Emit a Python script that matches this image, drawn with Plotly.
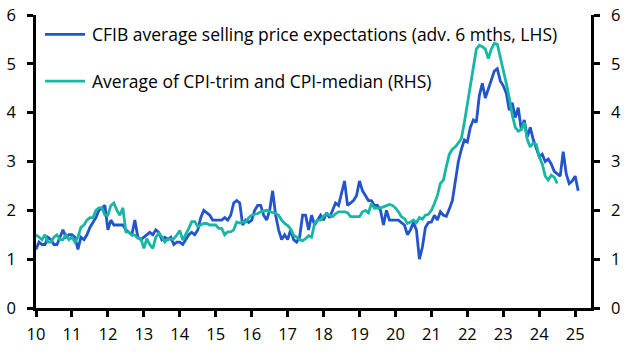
import plotly.graph_objects as go

# Monthly data, Jan 2010 onwards
cfib = [
    # 2010
    1.2, 1.35, 1.3, 1.3, 1.45, 1.4, 1.3, 1.3, 1.45, 1.6, 1.45, 1.5,
    # 2011
    1.5, 1.45, 1.2, 1.45, 1.4, 1.5, 1.65, 1.75, 1.85, 2.0, 2.05, 2.1,
    # 2012
    1.6, 1.8, 1.7, 1.7, 1.7, 1.7, 1.6, 1.55, 1.5, 1.8, 1.45, 1.4,
    # 2013
    1.45, 1.5, 1.55, 1.5, 1.6, 1.55, 1.4, 1.45, 1.4, 1.45, 1.3, 1.35,
    # 2014
    1.35, 1.3, 1.4, 1.5, 1.55, 1.5, 1.6, 1.85, 2.0, 1.95, 1.9, 1.8,
    # 2015
    1.8, 1.8, 1.8, 1.85, 1.8, 1.9, 2.15, 2.2, 2.15, 1.7, 1.8, 1.75,
    # 2016
    1.8, 2.0, 2.1, 2.1, 1.9, 1.8, 2.0, 2.4, 1.9, 1.6, 1.4, 1.5,
    # 2017
    1.4, 1.6, 1.4, 1.35, 1.45, 1.9, 1.9, 1.6, 1.9, 1.7, 1.8, 1.9,
    # 2018
    1.8, 1.95, 1.85, 2.0, 2.15, 2.1, 2.35, 2.6, 2.1, 2.15, 2.2, 2.3,
    # 2019
    2.6, 2.4, 2.3, 2.2, 2.2, 2.1, 2.1, 2.0, 1.7, 2.0, 1.8, 1.8,
    # 2020
    1.8, 1.8, 1.75, 1.7, 1.5, 1.6, 1.75, 1.6, 1.0, 1.25, 1.65, 1.75,
    # 2021
    1.76, 1.9, 1.8, 1.97, 1.9, 1.88, 2.03, 2.2, 2.6, 3.0, 3.25, 3.44,
    # 2022
    3.4, 3.7, 3.85, 3.8, 4.35, 4.6, 4.3, 4.5, 4.65, 4.85, 4.9, 4.65,
    # 2023
    4.55, 4.4, 4.05, 4.2, 3.9, 4.1, 3.65, 3.85, 3.5, 3.7, 3.45, 3.25,
    # 2024
    3.1, 3.15, 3.0, 3.05, 2.95, 2.8, 2.75, 2.7, 3.2, 2.75, 2.55, 2.6,
    # 2025
    2.7, 2.4,
]

cpi_core = [
    # 2010
    1.5, 1.45, 1.4, 1.5, 1.35, 1.35, 1.45, 1.5, 1.4, 1.4, 1.5, 1.4,
    # 2011
    1.45, 1.35, 1.45, 1.65, 1.7, 1.8, 1.85, 1.85, 2.0, 2.05, 2.05, 1.9,
    # 2012
    1.9, 2.1, 2.15, 2.0, 1.9, 2.05, 1.56, 1.55, 1.5, 1.49, 1.43, 1.42,
    # 2013
    1.22, 1.42, 1.3, 1.22, 1.45, 1.53, 1.46, 1.35, 1.42, 1.4, 1.42, 1.49,
    # 2014
    1.59, 1.39, 1.5, 1.63, 1.77, 1.77, 1.67, 1.7, 1.73, 1.73, 1.7, 1.7,
    # 2015
    1.7, 1.63, 1.63, 1.5, 1.56, 1.56, 1.6, 1.76, 1.74, 1.76, 1.76, 1.85,
    # 2016
    1.9, 1.92, 1.93, 1.97, 1.98, 2.0, 1.97, 1.96, 1.94, 1.9, 1.8, 1.73,
    # 2017
    1.69, 1.62, 1.49, 1.45, 1.4, 1.38, 1.42, 1.48, 1.45, 1.73, 1.8, 1.8,
    # 2018
    1.88, 1.93, 1.9, 1.87, 1.93, 1.97, 1.97, 1.97, 1.95, 1.87, 1.87, 1.87,
    # 2019
    1.87, 1.97, 2.0, 1.95, 2.14, 2.04, 2.04, 2.05, 2.07, 2.1, 2.12, 2.1,
    # 2020
    2.05, 1.97, 1.87, 1.83, 1.73, 1.76, 1.8, 1.75, 1.85, 1.82, 1.9, 1.92,
    # 2021
    2.0, 2.14, 2.3, 2.55, 2.62, 2.9, 3.15, 3.25, 3.3, 3.38, 3.47, 3.8,
    # 2022
    4.2, 4.6, 5.0, 5.3, 5.38, 5.35, 5.3, 5.11, 5.3, 5.42, 5.4, 5.15,
    # 2023
    4.9, 4.6, 4.3, 3.95, 3.7, 3.62, 3.65, 3.8, 3.45, 3.3, 3.38, 3.35,
    # 2024
    3.1, 2.95, 2.7, 2.62, 2.72, 2.68, 2.55,
]

start_year = 10
tick_vals = list(range(10, 26))
tick_text = [str(v) for v in tick_vals]
y_ticks = [0, 1, 2, 3, 4, 5, 6]

x_cfib = [start_year + i / 12 for i in range(len(cfib))]
x_cpi = [start_year + i / 12 for i in range(len(cpi_core))]

BLUE = "#2254cc"
TEAL = "#16b7a3"
FONT = "Open Sans"
TICK_SIZE = 16.5
LEG_SIZE = 17.5

fig = go.Figure()
fig.add_trace(go.Scatter(x=x_cfib, y=cfib, mode="lines",
                         line=dict(color=BLUE, width=2.8),
                         name="CFIB average selling price expectations (adv. 6 mths, LHS)", showlegend=False))
fig.add_trace(go.Scatter(x=x_cpi, y=cpi_core, mode="lines", yaxis="y2",
                         line=dict(color=TEAL, width=2.8),
                         name="Average of CPI-trim and CPI-median (RHS)", showlegend=False))

axis_common = dict(showgrid=False, zeroline=False, showline=True, linecolor="black",
                   linewidth=2.5, ticks="outside", ticklen=6, tickwidth=2.5, tickcolor="black",
                   automargin=False,
                   tickfont=dict(family=FONT, size=TICK_SIZE, color="black"))

fig.update_layout(
    width=628, height=352,
    margin=dict(l=36, r=37, t=15, b=44),
    paper_bgcolor="white", plot_bgcolor="white",
    xaxis=dict(range=[10, 25.44], tickvals=tick_vals, ticktext=tick_text,
               ticklabelstandoff=3, **axis_common),
    yaxis=dict(range=[0, 6], tickvals=y_ticks, ticklabelstandoff=8, **axis_common),
    yaxis2=dict(range=[0, 6], tickvals=y_ticks, overlaying="y", side="right",
                ticklabelstandoff=8, **axis_common),
    showlegend=False,
)

# legend drawn as shapes + text
legend_items = [("CFIB average selling price expectations (adv. 6 mths, LHS)", BLUE, 0.934),
                ("Average of CPI-trim and CPI-median (RHS)", TEAL, 0.7745)]
for text, color, yy in legend_items:
    fig.add_shape(type="line", xref="paper", yref="paper", x0=0.0162, x1=0.0883, y0=yy, y1=yy,
                  line=dict(color=color, width=2.8))
    fig.add_annotation(text=text, xref="paper", yref="paper", x=0.0973, y=yy,
                       xanchor="left", yanchor="middle", showarrow=False,
                       font=dict(family=FONT, size=LEG_SIZE, color="black"))

fig.write_html("out.html")
